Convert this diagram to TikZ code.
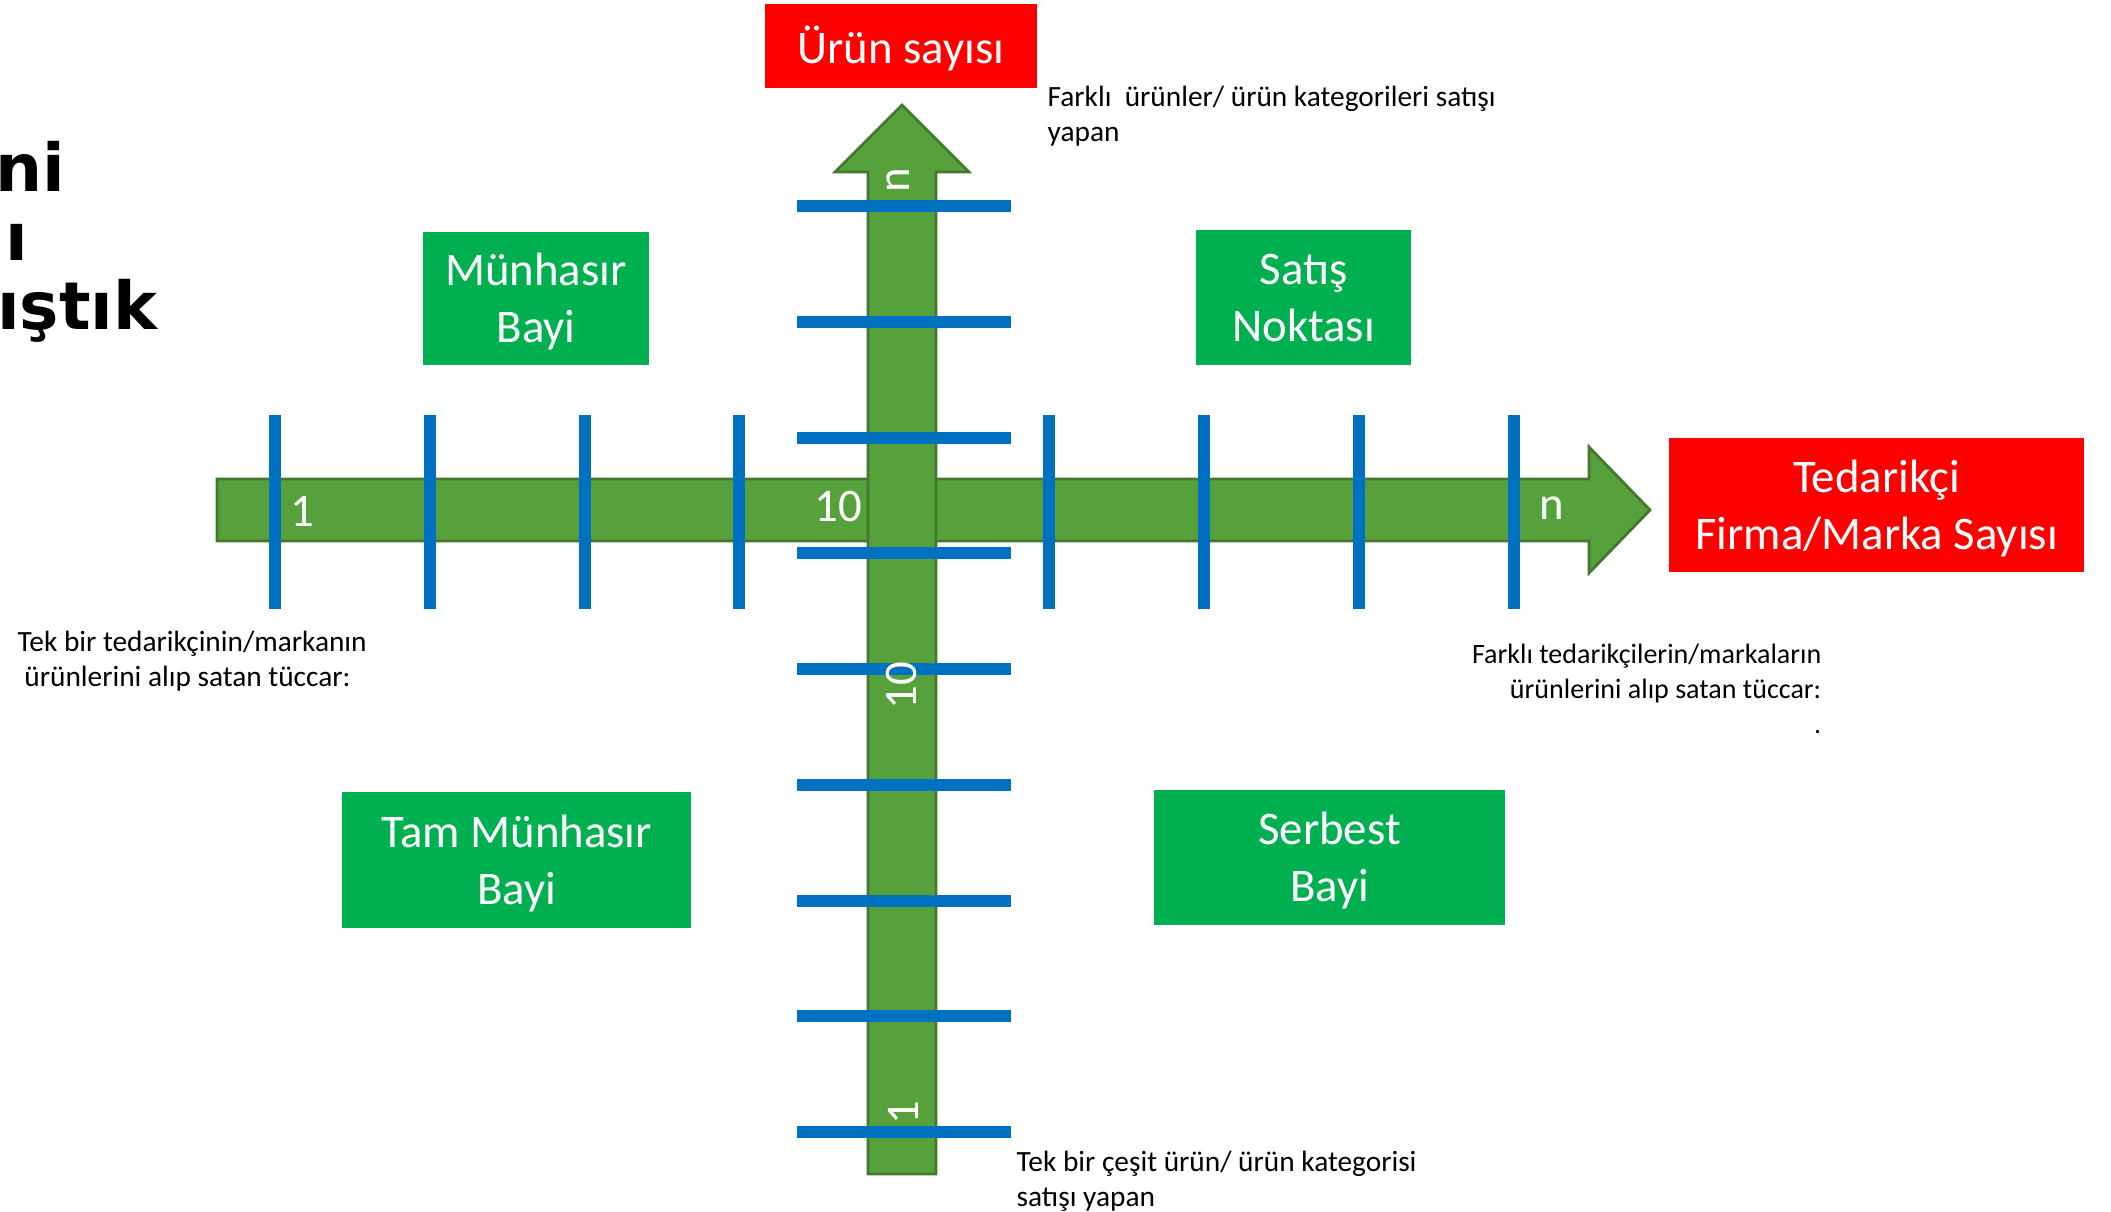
\documentclass[tikz,border=0pt]{standalone}
\usepackage{fontspec}
\setmainfont{Carlito}
\newfontfamily\titlefont{DejaVu Sans}

\definecolor{axisgreen}{HTML}{56A13B}
\definecolor{axisedge}{HTML}{43782D}
\definecolor{tickblue}{HTML}{0070C0}
\definecolor{boxgreen}{HTML}{00B050}
\definecolor{boxred}{HTML}{FF0000}

% struts that fix the line box of the box texts
\newcommand{\boxtop}[1][12pt]{\rule{0pt}{#1}}
\newcommand{\boxbot}{\rule[-3pt]{0pt}{0pt}}

\tikzset{
  axisarrow/.style={fill=axisgreen,draw=axisedge,line width=0.8pt},
  tickline/.style={draw=tickblue,line width=3.3pt},
  typebox/.style={fill=boxgreen,text=white,align=center,inner sep=0pt,
    font=\fontsize{13.3}{16.2}\selectfont},
  axisbox/.style={typebox,fill=boxred},
  axislabel/.style={text=white,inner sep=0pt,font=\fontsize{13.3}{16.2}\selectfont},
  note/.style={inner sep=0pt,font=\fontsize{8.35}{9.96}\selectfont},
  titlepart/.style={inner sep=0pt,anchor=base east,font=\titlefont\bfseries\fontsize{18.8}{22}\selectfont}
}

\begin{document}
\begin{tikzpicture}[x=0.01cm,y=-0.01cm]
  \clip (0,0) rectangle (2111,1212);

  % title, cut at the left edge
  \node[titlepart] (title1) at (66,191) {ni};
  \node[titlepart] (title2) at (29,260) {nı};
  \node[titlepart] (title3) at (158,329) {ıştık};

  % supplier axis
  \filldraw[axisarrow] (217,479) -- (1589,479) -- (1589,447) -- (1650,510)
    -- (1589,573) -- (1589,541) -- (217,541) -- cycle;
  \foreach \x in {275,430,585,739,1049,1204,1359,1514}
    \draw[tickline] (\x,415) -- (\x,609);

  % product axis
  \filldraw[axisarrow] (868,1174) -- (868,172) -- (835,172) -- (902,105)
    -- (969,172) -- (936,172) -- (936,1174) -- cycle;
  \foreach \y in {206,322,438,553,669,785,901,1016,1132}
    \draw[tickline] (797,\y) -- (1011,\y);

  \node[axislabel] (h1) at (302,511) {1};
  \node[axislabel] (h10) at (838,506) {10};
  \node[axislabel] (hn) at (1552,508) {n};
  \node[axislabel,rotate=90] (vn) at (898,180) {n};
  \node[axislabel,rotate=90] (v10) at (901,686) {10};
  \node[axislabel,rotate=90] (v1) at (903,1113) {1};

  % axis names
  \node[axisbox,minimum width=2.72cm,minimum height=0.84cm] (products) at (901,46)
    {\boxtop[12.7pt]Ürün sayısı\boxbot};
  \node[axisbox,minimum width=4.15cm,minimum height=1.34cm] (suppliers) at (1876.5,505)
    {\boxtop Tedarikçi\\Firma/Marka Sayısı\boxbot};

  % dealer types
  \node[typebox,minimum width=2.26cm,minimum height=1.33cm] (exclusive) at (536,298.5)
    {\boxtop Münhasır\\Bayi\boxbot};
  \node[typebox,minimum width=2.15cm,minimum height=1.35cm] (outlet) at (1303.5,297.5)
    {\boxtop Satış\\Noktası\boxbot};
  \node[typebox,minimum width=3.49cm,minimum height=1.36cm] (fullexcl) at (516.5,860)
    {\boxtop Tam Münhasır\\Bayi\boxbot};
  \node[typebox,minimum width=3.51cm,minimum height=1.35cm] (free) at (1329.5,857.5)
    {\boxtop Serbest\\Bayi\boxbot};

  % notes
  \node[note,anchor=north west,align=left] (manyprod) at (1047,85)
    {Farklı\ \ ürünler/ ürün kategorileri satışı\\yapan};
  \node[note,anchor=north west,align=left] (onesupp) at (17,630)
    {Tek bir tedarikçinin/markanın\\\hspace*{0.23em}ürünlerini alıp satan tüccar:};
  \node[note,anchor=north east,align=right,font=\fontsize{7.97}{9.96}\selectfont]
    (manysupp) at (1822,643)
    {Farklı tedarikçilerin/markaların\\ürünlerini alıp satan tüccar:\\.};
  \node[note,anchor=north west,align=left] (oneprod) at (1016,1150)
    {Tek bir çeşit ürün/ ürün kategorisi\\satışı yapan};
\end{tikzpicture}
\end{document}
